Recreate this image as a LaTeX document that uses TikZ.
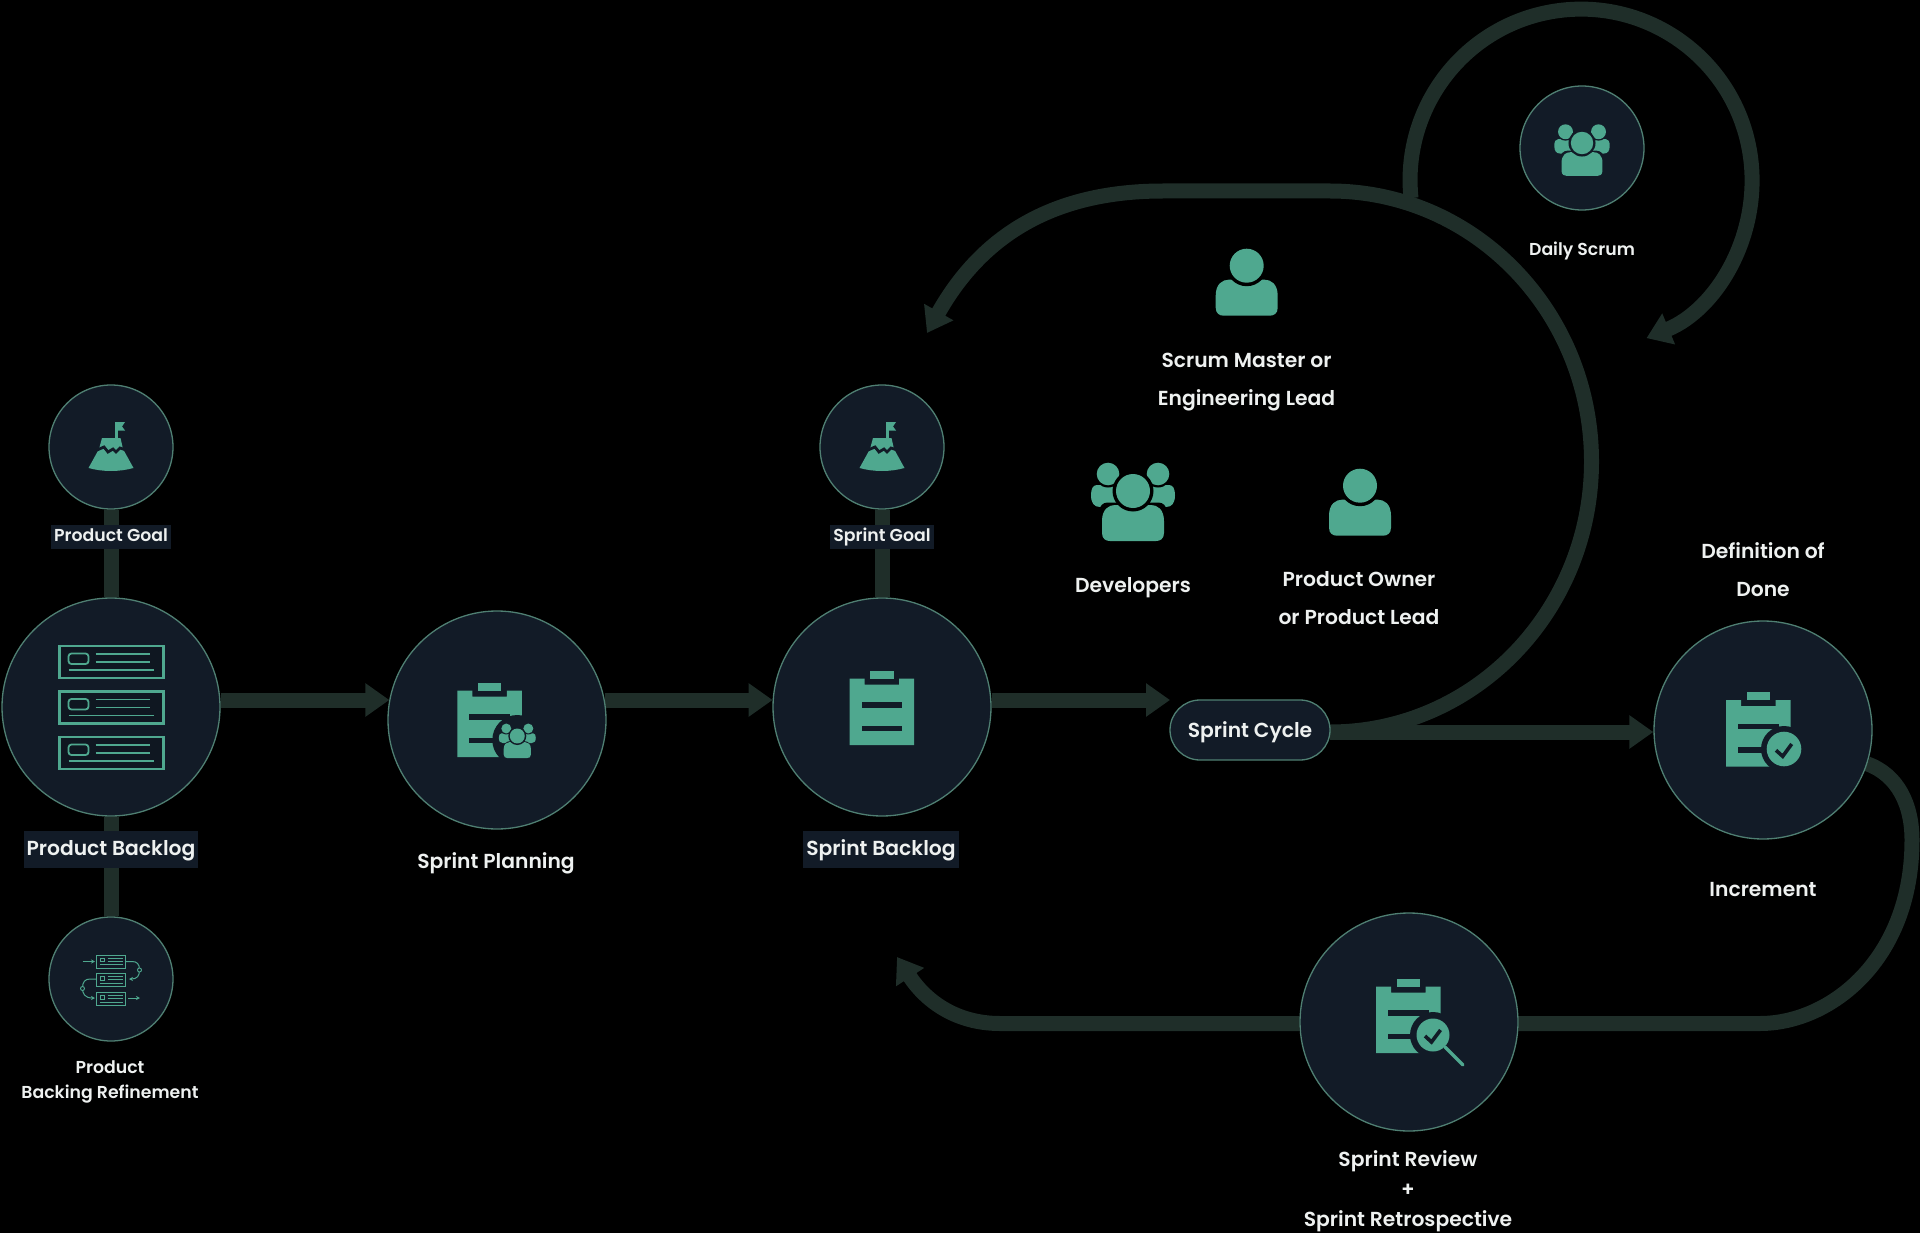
\documentclass[tikz,border=0pt]{standalone}
\usepackage{fontspec}
\setmainfont{Poppins}[UprightFont=* SemiBold]
\usetikzlibrary{arrows.meta}

\pgfdeclarelayer{edges}
\pgfsetlayers{edges,main}

\definecolor{rail}{HTML}{1F2E29}
\definecolor{disc}{HTML}{121B27}
\definecolor{rim}{HTML}{4F7F72}
\definecolor{mint}{HTML}{4FA88F}
\definecolor{label}{HTML}{EEF1F0}

\tikzset{
    bigdisc/.style={circle, draw=rim, fill=disc, line width=1.3pt, minimum size=218pt, inner sep=0pt},
    smalldisc/.style={circle, draw=rim, fill=disc, line width=1.3pt, minimum size=124pt, inner sep=0pt},
    pill/.style={draw=rim, fill=disc, line width=1.3pt, rounded corners=30pt, minimum width=160pt, minimum height=60pt, inner sep=0pt},
    flow/.style={draw=rail, line width=15pt, -{Triangle[length=24pt, width=32pt]}},
    link/.style={draw=rail, line width=15pt},
    big/.style={text=label, font=\fontsize{20.3}{37.5}\selectfont, align=center, inner sep=0pt},
    small/.style={text=label, font=\fontsize{17.3}{25}\selectfont, align=center, inner sep=0pt},
    tagsmall/.style={small, fill=disc, inner xsep=3pt, inner ysep=3pt, text height=13.5pt, text depth=4.5pt},
    tagbig/.style={big, fill=disc, inner xsep=3pt, inner ysep=5pt, text height=20pt, text depth=7pt},
    % person, #1 is the colour behind it
    person/.pic={
        \fill[mint] (-31, 30) .. controls (-31, 18) and (-24, 14) .. (-18, 14) -- (18, 14)
            .. controls (24, 14) and (31, 18) .. (31, 30) -- (31, 42)
            .. controls (31, 48) and (27, 50) .. (23, 50) -- (-23, 50)
            .. controls (-27, 50) and (-31, 48) .. (-31, 42) -- cycle;
        \fill[#1] (0, 0) circle[radius=20.5];
        \fill[mint] (0, 0) circle[radius=17];
    },
    team/.pic={
        \foreach \s in {-1, 1} {
            \fill[mint, xscale=\s] (16, -6) -- (36, -6) .. controls (40, -6) and (42, -2) .. (42, 4)
                .. controls (42, 12) and (39, 16) .. (33, 16) -- (16, 16) -- cycle;
            \fill[#1, xscale=\s] (25, -17) circle[radius=13.5];
            \fill[mint, xscale=\s] (25, -17) circle[radius=11.3];
        }
        \fill[#1, rounded corners=8pt] (-33.5, 11.5) rectangle (33.5, 52.5);
        \pic[transform shape] {person=#1};
    },
    % clipboard, origin at the top left of the sheet
    sheet/.pic={
        \fill[mint] (0, 0) -- (15, 0) -- (15, 6) -- (49.5, 6) -- (49.5, 0) -- (64.5, 0) -- (64.5, 66.5) -- (0, 66.5) -- cycle;
        \fill[mint] (20.5, -8) rectangle (44, 0);
        \fill[disc] (12, 23.5) rectangle (52.5, 29);
        \fill[disc] (12, 47) rectangle (52.5, 52.5);
    },
    peak/.pic={
        \fill[mint] (4, -25) rectangle (6.5, -8);
        \fill[mint] (6.5, -25) -- (14, -25) -- (11, -20.5) -- (14, -16.5) -- (6.5, -16.5) -- cycle;
        \fill[mint] (-9, -9) -- (9.5, -9) -- (12, 2) -- (22.5, 21) .. controls (8, 25) and (-8, 25) .. (-22.5, 21) -- (-12, 2) -- cycle;
        \draw[disc, line width=2.8pt] (-14, 3) -- (-7, 0) -- (-3, 5) -- (2, 2) -- (5, 5) -- (9, 1) -- (15, 3);
    },
    % row of the backlog, 104 wide and 32 high
    row/.pic={
        \draw[mint, line width=2.4pt, fill=disc!85!black] (0, 0) rectangle (104, 32);
        \draw[mint, line width=1.8pt, rounded corners=3pt] (9, 7.5) rectangle (29, 18);
        \draw[mint, line width=1.8pt] (36, 8) -- (90, 8) (36, 16) -- (90, 16) (9, 24) -- (94, 24);
    },
    minirow/.pic={
        \draw[mint, line width=.9pt] (0, 0) rectangle (29, 13);
        \draw[mint, line width=.8pt] (3.5, 3) rectangle (8, 6.5);
        \draw[mint, line width=.8pt] (11, 3) -- (26, 3) (11, 6) -- (26, 6) (3.5, 9.5) -- (26, 9.5);
    },
    hook/.style={mint, line width=1pt, -{Stealth[length=4pt, width=4pt]}},
}

\begin{document}
\begin{tikzpicture}[x=1pt, y=-1pt]
    \useasboundingbox (0, 0) rectangle (1920, 1233);

    % Nodes (Events and artifacts)
    \node[bigdisc] (PB) at (111, 707) {};
    \node[bigdisc] (SP) at (497, 720) {};
    \node[bigdisc] (SB) at (882, 707) {};
    \node[bigdisc] (IN) at (1763, 730) {};
    \node[bigdisc] (SR) at (1409, 1022) {};
    \node[smalldisc] (PG) at (111, 447) {};
    \node[smalldisc] (SG) at (882, 447) {};
    \node[smalldisc] (PF) at (111, 979) {};
    \node[smalldisc] (DS) at (1582, 148) {};
    \node[pill, text=label, text depth=0pt, font=\fontsize{20.3}{26}\selectfont] (SC) at (1250, 730) {Sprint Cycle};

    % Free ends of the loops
    \coordinate (Rail) at (0, 700);
    \coordinate (Cin) at (1170, 700);
    \coordinate (Cout) at (1330, 732);
    \coordinate (Lend) at (1163, 191);
    \coordinate (Ltip) at (927, 333);
    \coordinate (Dstart) at (1411, 198);
    \coordinate (Rside) at (1912, 840);
    \coordinate (Rlow) at (1760, 1023.5);
    \coordinate (Bend) at (1000, 1023.5);
    \coordinate (Btip) at (897, 957);

    % Edges (Flow), on their own layer behind the discs
    \begin{pgfonlayer}{edges}
        \fill[black] (0, 0) rectangle (1920, 1233);
        \draw[link] (PG) -- (PB);
        \draw[link] (PB) -- (PF);
        \draw[link] (SG) -- (SB);
        \draw[flow] (PB.3.66 |- Rail) -- (SP.169.49 |- Rail);
        \draw[flow] (SP.10.51 |- Rail) -- (SB.176.34 |- Rail);
        \draw[flow] (SB.3.66 |- Rail) -- (Cin);
        \draw[flow] (Cout) -- (IN.west |- Cout);
        % Sprint loop
        \draw[flow] (Cout) arc[start angle=90, end angle=-90, x radius=261.5, y radius=270.5] -- (Lend)
            .. controls (1060, 191) and (985, 230) .. (Ltip);
        % Daily loop
        \draw[flow] (Dstart) arc[start angle=174, end angle=427.5, radius=171];
        % Review loop
        \draw[link] (IN.-18) .. controls (1898, 775) and (1912, 805) .. (Rside)
            .. controls (1912, 960) and (1830, 1023.5) .. (Rlow) -- (SR.east |- Rlow);
        \draw[flow] (SR.west |- Rlow) -- (Bend) .. controls (955, 1023.5) and (925, 1000) .. (Btip);
    \end{pgfonlayer}

    % Icons
    \pic at (111, 447) {peak};
    \pic at (882, 447) {peak};
    \pic at (59.5, 646) {row};
    \pic at (59.5, 691.5) {row};
    \pic at (59.5, 737) {row};

    \pic at (96.5, 955) {minirow};
    \pic at (96.5, 973.5) {minirow};
    \pic at (96.5, 992.5) {minirow};
    \draw[hook] (82.5, 961.5) -- (95, 961.5);
    \draw[hook] (126, 961.5) -- (132, 961.5) .. controls (137, 961.5) and (139.5, 964) .. (139.5, 970)
        .. controls (139.5, 976) and (137, 979) .. (129, 979);
    \draw[hook] (96.5, 979) -- (90, 979) .. controls (85, 979) and (82.5, 982) .. (82.5, 988)
        .. controls (82.5, 994) and (85, 998) .. (95, 998);
    \draw[hook] (128, 998) -- (140, 998);
    \draw[mint, line width=.9pt, fill=disc] (139.5, 970) circle[radius=2] (82.5, 988.5) circle[radius=2];

    \pic[scale=.66] at (1582, 143) {team=disc};
    \pic at (1246.7, 265.7) {person=black};
    \pic at (1360, 485.7) {person=black};
    \pic at (1133, 491) {team=black};

    % Clipboards
    \pic at (849.5, 678.5) {sheet};
    \pic at (457.3, 690.7) {sheet};
    \fill[disc] (517.3, 740) circle[radius=25];
    \pic[scale=.44] at (517.3, 736) {team=disc};
    \pic at (1726, 700) {sheet};
    \fill[disc] (1784, 749) circle[radius=23];
    \fill[mint] (1784, 749) circle[radius=17.3];
    \draw[disc, line width=3.6pt] (1776, 750.3) -- (1782.7, 756.3) -- (1791.7, 744);
    \pic at (1376, 986.7) {sheet};
    \fill[disc] (1433, 1035) circle[radius=23];
    \fill[mint] (1433, 1035) circle[radius=16.5];
    \draw[disc, line width=3.6pt] (1425, 1036) -- (1431.5, 1042) -- (1440.5, 1030);
    \draw[mint, line width=3.4pt, line cap=round] (1445, 1047) -- (1463, 1065);

    % Labels
    \node[tagsmall] (PGl) at (111, 536.5) {Product Goal};
    \node[tagsmall] (SGl) at (882, 536.5) {Sprint Goal};
    \node[tagbig] (PBl) at (111, 849) {Product Backlog};
    \node[tagbig] (SBl) at (881, 849) {Sprint Backlog};
    \node[big] (SPl) at (496, 863.5) {Sprint Planning};
    \node[small] (PFl) at (110, 1082) {Product\\Backing Refinement};
    \node[small] (DSl) at (1582, 250.5) {Daily Scrum};
    \node[big] (SMl) at (1246.5, 382) {Scrum Master or\\Engineering Lead};
    \node[big] (DVl) at (1133, 587.5) {Developers};
    \node[big] (POl) at (1359, 598) {Product Owner\\or Product Lead};
    \node[big] (DDl) at (1763, 569.5) {Definition of\\Done};
    \node[big] (INl) at (1763, 890) {Increment};
    \node[big, font=\fontsize{20.3}{30}\selectfont] (SRl) at (1408, 1191.5) {Sprint Review\\+\\Sprint Retrospective};
\end{tikzpicture}
\end{document}
